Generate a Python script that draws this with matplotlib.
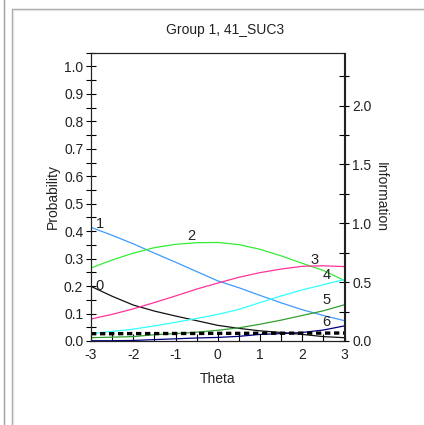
import matplotlib
matplotlib.use("Agg")
import matplotlib.pyplot as plt
from matplotlib.lines import Line2D
from matplotlib.ticker import MultipleLocator

plt.rcParams["font.family"] = ["Liberation Sans", "DejaVu Sans"]
plt.rcParams["font.size"] = 10
plt.rcParams["axes.unicode_minus"] = False

# данные
theta = [-3, -2.5, -2, -1.5, -1, -0.5, 0, 0.5, 1, 1.5, 2, 2.5, 3]
cat0 = [.199, .163, .131, .109, .091, .074, .057, .046, .037, .031, .024, .016, .012]
cat1 = [.414, .385, .354, .320, .287, .253, .219, .194, .166, .139, .114, .093, .074]
cat2 = [.266, .295, .320, .340, .352, .358, .359, .351, .334, .310, .283, .257, .220]
cat3 = [.080, .097, .117, .140, .164, .189, .211, .232, .249, .262, .272, .274, .271]
cat4 = [.027, .035, .043, .055, .068, .082, .097, .115, .140, .164, .186, .205, .224]
cat5 = [.012, .014, .016, .023, .027, .032, .039, .048, .061, .076, .093, .110, .132]
cat6 = [.001, .001, .002, .005, .008, .011, .013, .017, .024, .027, .031, .040, .055]
information = [.062, .062, .063, .063, .064, .064, .065, .065, .066, .066, .067, .067, .068]

curves = [cat0, cat1, cat2, cat3, cat4, cat5, cat6]
names = ["0", "1", "2", "3", "4", "5", "6"]
colors = ["#111111", "#3d9bff", "#33ee33", "#ff3399", "#33ffff", "#33a033", "#000080"]
# где стоят подписи категорий (theta, probability)
label_pos = [(-2.81, .202), (-2.79, .426), (-0.63, .382), (2.3, .294),
             (2.58, .24), (2.58, .151), (2.58, .070)]

fig = plt.figure(figsize=(4.24, 4.25), dpi=100)
W, H = 424, 425

# рамка панели
gray = "#a0a0a0"
fig.add_artist(Line2D([3.5 / W, 3.5 / W], [0, 1], color=gray, lw=1))
fig.add_artist(Line2D([11.5 / W, 11.5 / W, 1], [0, 1 - 8.5 / H, 1 - 8.5 / H], color=gray, lw=1))
fig.add_artist(Line2D([13 / W, 13 / W, 1], [0, 1 - 10 / H, 1 - 10 / H], color="#e6e6e6", lw=1))

ax = fig.add_axes([91 / W, 1 - 341 / H, (344.5 - 91) / W, (341 - 52.7) / H])
ax2 = ax.twinx()

for ys, c in zip(curves, colors):
    ax.plot(theta, ys, color=c, lw=0.9)
for (tx, ty), n in zip(label_pos, names):
    ax.text(tx, ty, n, ha="center", va="center", fontsize=10.5, color="#222222")

ax2.plot(theta, information, color="black", lw=2.4, dashes=(1.6, 1.1))

ax.set_xlim(-3, 3)
ax.set_ylim(0, 1.05)
ax2.set_ylim(0, 2.45)

ax.xaxis.set_major_locator(MultipleLocator(1))
ax.xaxis.set_minor_locator(MultipleLocator(0.5))
ax.yaxis.set_major_locator(MultipleLocator(0.1))
ax.yaxis.set_minor_locator(MultipleLocator(0.05))
ax2.yaxis.set_major_locator(MultipleLocator(0.5))
ax2.yaxis.set_minor_locator(MultipleLocator(0.25))
ax.yaxis.set_major_formatter(lambda v, p: f"{v:.1f}")
ax2.yaxis.set_major_formatter(lambda v, p: f"{v:.1f}")

ax.tick_params(axis="x", which="both", direction="in", length=5, width=0.8, top=False, pad=5,
               labelcolor="#222222")
ax.tick_params(axis="y", which="both", direction="inout", length=7, width=0.8, right=False, pad=2,
               labelcolor="#222222")
ax2.tick_params(axis="y", which="both", direction="inout", length=7, width=0.8, pad=2,
                labelcolor="#222222")

for a in (ax, ax2):
    for s in a.spines.values():
        s.set_linewidth(0.8)
        s.set_color("#222222")

ax.set_xlabel("Theta", labelpad=7, color="#222222")
ax.set_ylabel("Probability", labelpad=3, color="#222222")
ax2.set_ylabel("Information", rotation=270, labelpad=12, color="#222222")
fig.text(225 / W, 1 - 30 / H, "Group 1, 41_SUC3", ha="center", va="center", color="#222222")

fig.savefig("out.png", dpi=100)
